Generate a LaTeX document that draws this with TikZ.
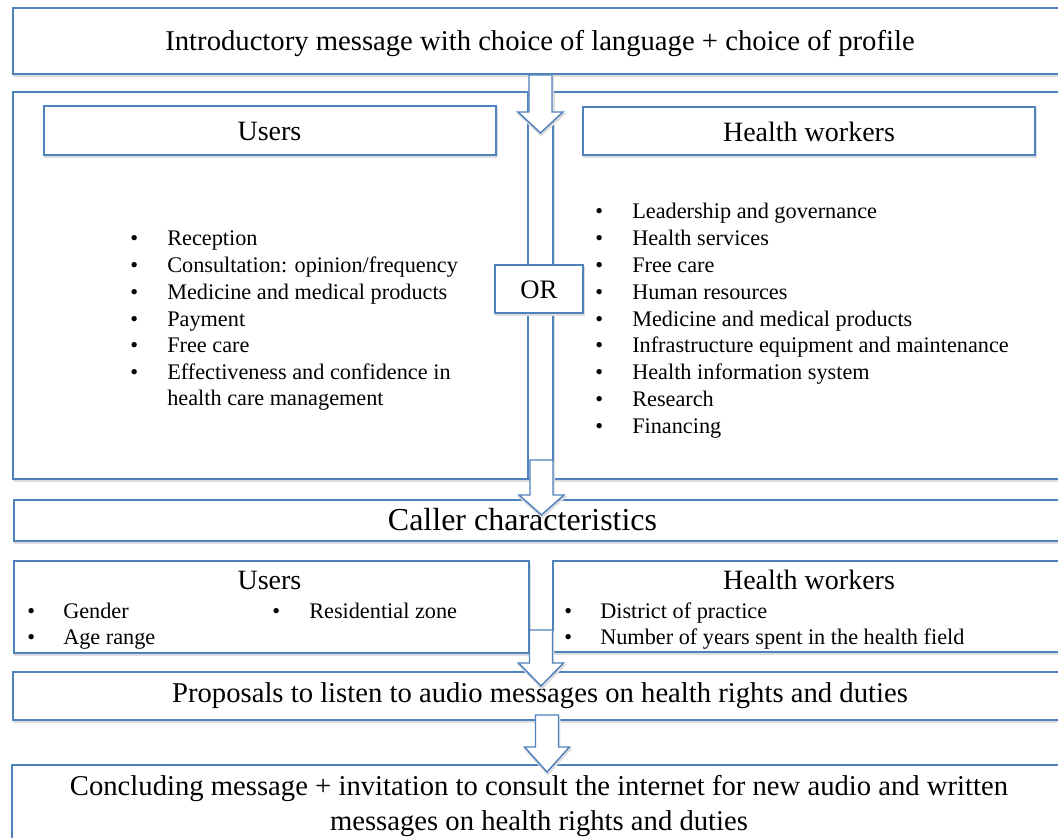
\documentclass[tikz,border=0pt]{standalone}
\usepackage{fontspec}
\setmainfont{Liberation Serif}
\usetikzlibrary{fit,shadows}
\definecolor{bblue}{RGB}{79,129,189}
\tikzset{
  shade/.style={general shadow={draw=black!13, line width=1.6pt, shadow xshift=0.6pt, shadow yshift=-1.6pt}},
  box/.style={draw=bblue, line width=1.1pt, fill=white, inner sep=0pt, shade},
  bigtxt/.style={font=\fontsize{21.5}{26.25}\selectfont, inner sep=0pt, align=center},
  headtxt/.style={font=\fontsize{21}{25}\selectfont, inner sep=0pt},
  itemtxt/.style={font=\fontsize{16.7}{20}\selectfont, anchor=base west, inner sep=0pt},
  bul/.style={font=\fontsize{16.7}{20}\selectfont, anchor=base west, inner sep=0pt},
  barrow/.style={draw=bblue, line width=1.1pt, fill=white, line join=miter, shade},
}
\newcommand\blockarrow[4]{%
  \draw[barrow] (#1-11.5,#2) -- (#1+11.5,#2) -- (#1+11.5,#3) -- (#1+22.5,#3)
    -- (#1,#4) -- (#1-22.5,#3) -- (#1-11.5,#3) -- cycle;}
\begin{document}
\begin{tikzpicture}[x=0.75pt,y=-0.75pt]
\useasboundingbox (0,0) rectangle (1058,838);
\clip (0,0) rectangle (1058,838);

% top box
\node[box, fit={(13,8)(1075,74)}] (top) {};
\node[bigtxt] (toptxt) at (540,44) {Introductory message with choice of language + choice of profile};

% big box
\node[box, fit={(13,92)(1075,479)}] (big) {};
\node[box, fit={(528,92)(553,479)}] (orcol) {};
\node[box, fit={(44,106)(496,155)}] (uhead) {};
\node[headtxt] (uheadtxt) at (269.5,131) {Users};
\node[box, fit={(583,107)(1035,155)}] (hhead) {};
\node[headtxt] (hheadtxt) at (809,132) {Health workers};
\node[box, fit={(495,265)(583,313)}] (orbox) {};
\node[font=\fontsize{20}{24}\selectfont, inner sep=0pt] (ortxt) at (539,290) {OR};

% left list
\foreach \t [count=\i] in {Reception,Consultation: opinion/frequency,Medicine and medical products,Payment,Free care,Effectiveness and confidence in}{
  \node[bul] (lb\i) at (130,{246+26.67*(\i-1)}) {•};
  \node[itemtxt] (lt\i) at (167,{246+26.67*(\i-1)}) {\t};
}
\node[itemtxt] (lt7) at (167,406) {health care management};

% right list
\foreach \t [count=\i] in {Leadership and governance,Health services,Free care,Human resources,Medicine and medical products,Infrastructure equipment and maintenance,Health information system,Research,Financing}{
  \node[bul] (rb\i) at (595,{219+26.75*(\i-1)}) {•};
  \node[itemtxt] (rt\i) at (632,{219+26.75*(\i-1)}) {\t};
}

% caller characteristics
\node[box, fit={(14,500)(1075,541)}] (caller) {};
\node[font=\fontsize{24}{28}\selectfont, inner sep=0pt] (callertxt) at (522.5,520) {Caller characteristics};

% second row
\node[box, fit={(14,561)(529,653)}] (users2) {};
\node[headtxt] (users2txt) at (269.5,580) {Users};
\node[bul] (ub1) at (27,618) {•};
\node[itemtxt] (ut1) at (63,618) {Gender};
\node[bul] (ub2) at (27,644) {•};
\node[itemtxt] (ut2) at (63,644) {Age range};
\node[bul] (ub3) at (272,618) {•};
\node[itemtxt] (ut3) at (309,618) {Residential zone};

\node[box, fit={(553,561)(1075,652)}] (hw2) {};
\node[headtxt] (hw2txt) at (809,580) {Health workers};
\node[bul] (hb1) at (564,618) {•};
\node[itemtxt] (ht1) at (600,618) {District of practice};
\node[bul] (hb2) at (564,644) {•};
\node[itemtxt] (ht2) at (600,644) {Number of years spent in the health field};

% proposals
\node[box, fit={(13,672)(1075,720)}] (prop) {};
\node[bigtxt] (proptxt) at (540,696) {Proposals to listen to audio messages on health rights and duties};

% concluding
\node[box, fit={(12,765)(1075,870)}] (concl) {};
\node[bigtxt] (concltxt) at (539,806) {Concluding message + invitation to consult the internet for new audio and written\\messages on health rights and duties};

% block arrows
\blockarrow{540.5}{75}{112}{133}
\blockarrow{541.5}{460}{495}{515}
\blockarrow{541}{630}{663}{686}
\blockarrow{547}{715}{747}{772}
\end{tikzpicture}
\end{document}
